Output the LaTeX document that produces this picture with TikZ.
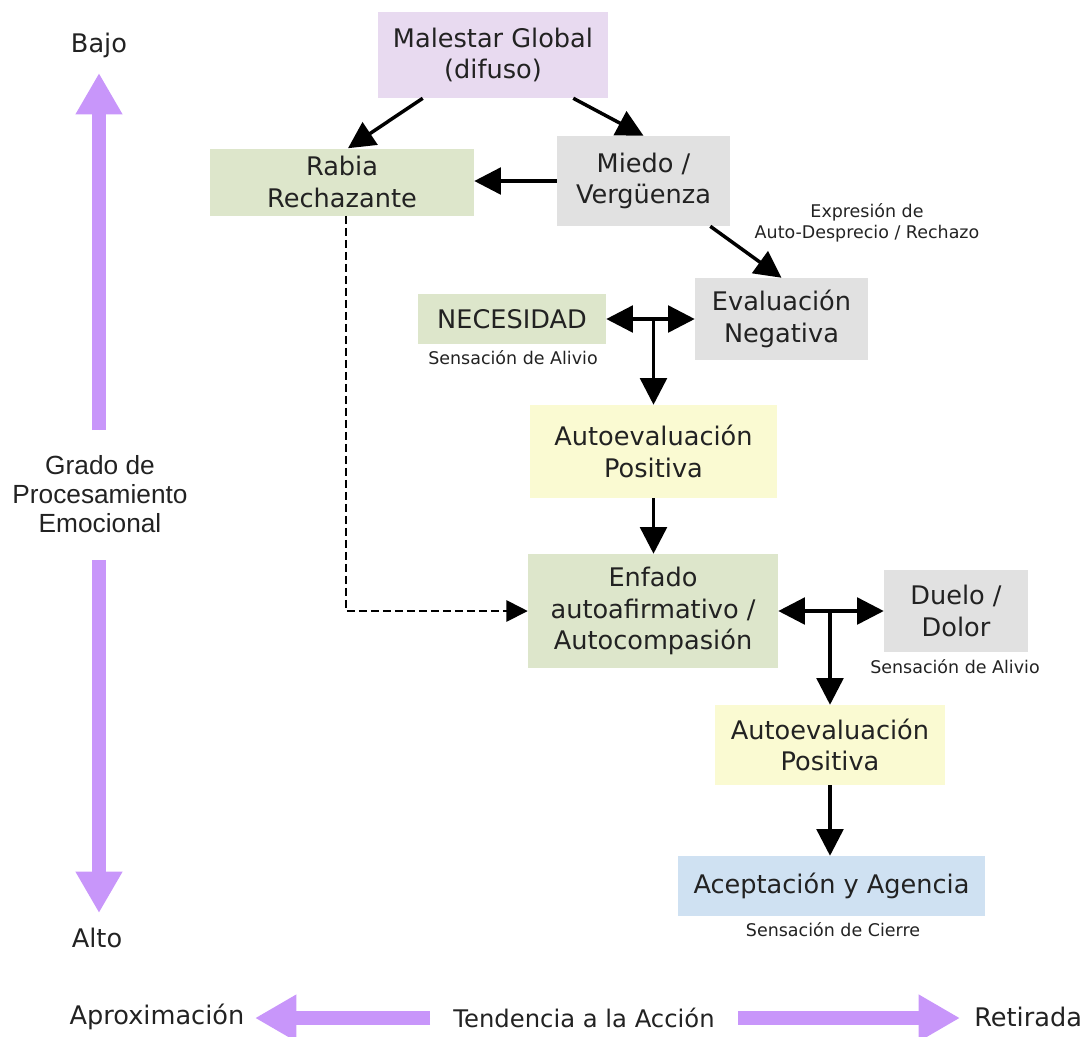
\documentclass[tikz,border=0pt]{standalone}
\usepackage{fontspec}
\setmainfont{DejaVu Sans}
\newfontfamily\arialf{Liberation Sans}
\usetikzlibrary{arrows.meta,calc}
\definecolor{cpurple}{HTML}{E8DAF0}
\definecolor{cgreen}{HTML}{DDE6CB}
\definecolor{cgray}{HTML}{E1E1E1}
\definecolor{cyellow}{HTML}{FAFAD2}
\definecolor{cblue}{HTML}{CFE1F2}
\definecolor{caxis}{HTML}{C896FA}
\definecolor{ctext}{HTML}{222222}
\begin{document}
\begin{tikzpicture}[x=0.75pt,y=-0.75pt,
  box/.style={inner sep=0pt, align=center, text=ctext, font=\fontsize{19.2}{23.5}\selectfont},
  small/.style={inner sep=0pt, align=center, text=ctext, font=\fontsize{13.1}{15.75}\selectfont},
  lbl/.style={inner sep=0pt, align=center, text=ctext, font=\fontsize{19.2}{23.5}\selectfont},
  conn/.style={line width=2.6pt, -{Triangle[length=20pt,width=20pt]}},
  dconn/.style={line width=1.4pt, dash pattern=on 6pt off 3pt, -{Triangle[length=16pt,width=16pt]}},
  axisarrow/.style={draw=caxis, fill=caxis, line width=11pt, -{Triangle[length=31pt,width=33pt]}}
]
\useasboundingbox (0,0) rectangle (1080,1036);

% boxes
\node[box, fill=cpurple, minimum width=172.5pt, minimum height=64.5pt] (mal) at (493,55) {Malestar Global\\(difuso)};
\node[box, fill=cgreen, minimum width=198pt, minimum height=50.25pt] (rab) at (342,182) {Rabia\\Rechazante};
\node[box, fill=cgray, minimum width=129.75pt, minimum height=67.5pt] (mie) at (643.5,181) {Miedo /\\Vergüenza};
\node[box, fill=cgray, minimum width=129.75pt, minimum height=61.5pt] (eva) at (781.5,319) {Evaluación\\Negativa};
\node[box, fill=cgreen, minimum width=141pt, minimum height=37.5pt] (nec) at (512,319) {NECESIDAD};
\node[box, fill=cyellow, minimum width=185.25pt, minimum height=69.75pt] (ap1) at (653.5,451.5) {Autoevaluación\\Positiva};
\node[box, fill=cgreen, minimum width=187.5pt, minimum height=85.5pt] (enf) at (653,611) {Enfado\\autoafirmativo /\\Autocompasión};
\node[box, fill=cgray, minimum width=108pt, minimum height=61.5pt] (due) at (956,611) {Duelo /\\Dolor};
\node[box, fill=cyellow, minimum width=172.5pt, minimum height=60pt] (ap2) at (830,745) {Autoevaluación\\Positiva};
\node[box, fill=cblue, minimum width=230.25pt, minimum height=45pt] (ace) at (831.5,886) {Aceptación y Agencia};

% small labels
\node[small] (lexp) at (867,223) {Expresión de\\Auto-Desprecio / Rechazo};
\node[small] (lnec) at (513,358) {Sensación de Alivio};
\node[small] (ldue) at (955,667) {Sensación de Alivio};
\node[small] (lace) at (833,930) {Sensación de Cierre};

% connectors
\draw[conn] ($(mal.south west)+(45,0)$) -- ($(rab.north)+(6,0)$);
\draw[conn] ($(mal.south east)+(-35,0)$) -- (mie.north);
\draw[conn] (mie.west) -- (mie.west -| rab.east);
\draw[conn] ($(mie.south east)+(-20,0)$) -- (eva.north);
\coordinate (j1) at (ap1.north |- nec.east);
\draw[conn] (j1) -- (nec.east);
\draw[conn] (j1) -- (eva.west);
\draw[conn] (j1) -- (ap1.north);
\draw[conn] (ap1.south) -- (ap1.south |- enf.north);
\draw[dconn] ($(rab.south)+(4,0)$) |- (enf.west);
\coordinate (j2) at (ap2.north |- enf.east);
\draw[conn] (j2) -- (enf.east);
\draw[conn] (j2) -- (due.west);
\draw[conn] (j2) -- (ap2.north);
\draw[conn] (ap2.south) -- (ap2.south |- ace.north);

% vertical axis
\node[lbl] (bajo) at (99,45) {Bajo};
\node[lbl] (alto) at (97,938) {Alto};
\node[inner sep=0pt, align=center, text=ctext, font=\arialf\fontsize{19.7}{21.75}\selectfont] (grado) at (100,494) {Grado de\\Procesamiento\\Emocional};
\coordinate (upA) at (99,430);
\coordinate (upT) at (99,73);
\coordinate (dnA) at (99,560);
\coordinate (dnT) at (99,913);
\draw[axisarrow] (upA) -- (upT);
\draw[axisarrow] (dnA) -- (dnT);

% horizontal axis
\node[lbl] (aprox) at (157,1017) {Aproximación};
\node[lbl, font=\fontsize{18.2}{22}\selectfont] (tend) at (584,1018) {Tendencia a la Acción};
\node[lbl, anchor=west] (ret) at (974,1017) {Retirada};
\coordinate (lfA) at (430,1018);
\coordinate (lfT) at (255,1018);
\coordinate (rtA) at (738,1018);
\coordinate (rtT) at (960,1018);
\draw[axisarrow] (lfA) -- (lfT);
\draw[axisarrow] (rtA) -- (rtT);
\end{tikzpicture}
\end{document}
